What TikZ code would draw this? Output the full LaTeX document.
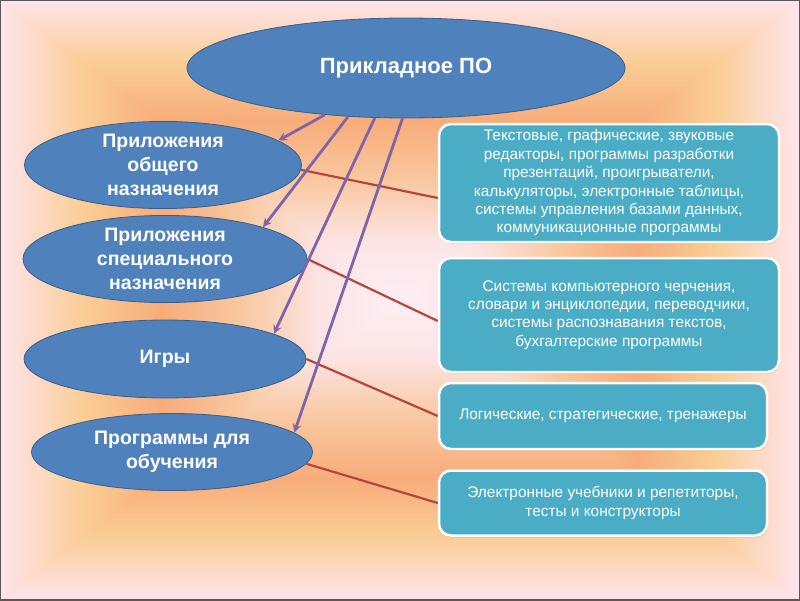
\documentclass[tikz,border=0pt]{standalone}
\usepackage{xcolor}
\usepackage{fontspec}
\setmainfont{Liberation Sans}
\usepackage{tikz}
\usetikzlibrary{shapes.geometric, arrows, positioning, shadows}
\definecolor{ovalblue}{RGB}{79, 129, 189}
\definecolor{ovaledge}{RGB}{56, 93, 138}
\definecolor{boxteal}{RGB}{75, 172, 198}
\definecolor{linkred}{RGB}{180, 70, 62}
\definecolor{arrowviolet}{RGB}{128, 100, 170}
\definecolor{bgA}{RGB}{255, 228, 236}
\definecolor{bgB}{RGB}{250, 206, 150}
\definecolor{bgC}{RGB}{247, 172, 122}
\definecolor{bgD}{RGB}{249, 200, 160}
\definecolor{bgE}{RGB}{252, 228, 228}
\definecolor{bgF}{RGB}{253, 238, 244}

\begin{document}
\begin{tikzpicture}[x=1pt, y=-1pt, node distance=94pt]
        \tikzstyle{oval} = [ellipse, inner sep=0pt, minimum width=282pt, minimum height=82pt, align=center, draw=ovaledge, line width=0.8pt, fill=ovalblue, text=white, font=\bfseries\fontsize{19.5}{24}\selectfont]
        \tikzstyle{box} = [rectangle, rounded corners=12pt, minimum width=340pt, align=center, draw=white, line width=2.5pt, fill=boxteal, text=white, font=\fontsize{15.4}{18.4}\selectfont, drop shadow={opacity=0.2, shadow xshift=1pt, shadow yshift=-2pt}]
        \tikzstyle{link} = [linkred, line width=2.2pt]
        \tikzstyle{arrow} = [arrowviolet, line width=2.8pt, ->, >=stealth]

        % background
        \useasboundingbox (0,0) rectangle (800,600);
        \foreach \ca/\cb [count=\s from 0] in {bgA/bgB, bgB/bgC, bgC/bgD, bgD/bgE, bgE/bgF}
            \foreach \i in {0,...,19} {
                \pgfmathsetmacro\t{(\s*20+\i)/100}
                \pgfmathtruncatemacro\f{\i*5}
                \fill[\cb!\f!\ca] ({400*\t},{300*\t}) rectangle ({800-400*\t},{600-300*\t});
            }
        \draw[gray!70!black, line width=1.5pt] (0,0) rectangle (800,600);

        \node (po) [oval, minimum width=438pt, minimum height=100pt, font=\bfseries\fontsize{22}{26}\selectfont] at (406,68) {Прикладное ПО};
        \node (gen) [oval, minimum width=277pt, minimum height=84pt] at (163,165) {Приложения\\общего\\назначения};
        \node (spec) [oval, below of=gen, xshift=2pt, minimum width=284pt] {Приложения\\специального\\назначения};
        \node (games) [oval, below of=spec, yshift=-6pt, minimum height=78pt] {Игры};
        \node (edu) [oval, below of=games, xshift=7pt, yshift=1pt, minimum width=281pt, minimum height=77pt] {Программы для\\обучения};

        \node (txt1) [box, minimum height=118pt] at (609,183) {Текстовые,  графические, звуковые\\редакторы, программы разработки\\презентаций, проигрыватели,\\калькуляторы, электронные таблицы,\\системы управления базами данных,\\коммуникационные программы};
        \node (txt2) [box, below of=txt1, yshift=-38pt, minimum height=114pt] {Системы компьютерного черчения,\\словари и энциклопедии, переводчики,\\системы распознавания текстов,\\бухгалтерские программы};
        \node (txt3) [box, below of=txt2, xshift=-6pt, yshift=-7pt, minimum width=328pt, minimum height=66pt] {Логические, стратегические, тренажеры};
        \node (txt4) [box, below of=txt3, yshift=7pt, minimum width=328pt, minimum height=65pt] {Электронные учебники и репетиторы,\\тесты и конструкторы};

        \draw [link] (gen.358) -- (txt1.185);
        \draw [link] (spec.east) -- (txt2.182);
        \draw [link] (games.east) -- (txt3.west);
        \draw [link] (edu.355) -- (txt4.west);

        \draw [arrow] (po.210) -- (gen.12);
        \draw [arrow] (po.220) -- (spec.18);
        \draw [arrow] (po.238) -- (games.13);
        \draw [arrow] (po.266) -- (edu.9);
    \end{tikzpicture}
\end{document}
